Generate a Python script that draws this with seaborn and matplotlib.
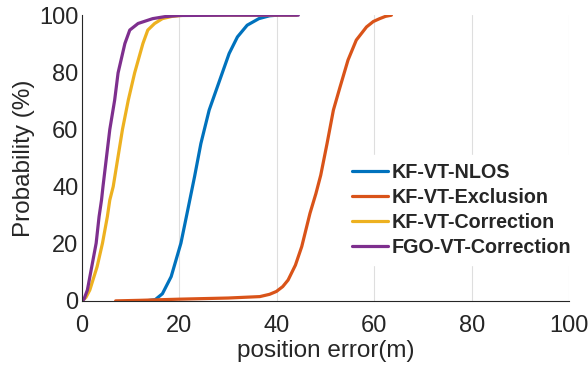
import matplotlib
matplotlib.use("Agg")
import matplotlib.pyplot as plt
import seaborn as sns
import pandas as pd

# CDF samples of position error (m) vs cumulative probability (%)
nlos_err = [11.5, 13.0, 15.0, 16.5, 18.3, 20.3, 21.7, 23.1, 24.4, 26.1, 28.5, 30.2, 31.9, 33.9, 36.3, 38.5, 40.0]
nlos_prob = [0.0, 0.0, 0.4, 2.5, 8.5, 20.2, 31.8, 43.5, 55.1, 66.8, 78.4, 86.6, 92.4, 96.5, 98.8, 99.8, 100.0]

excl_err = [6.9, 12.0, 20.0, 30.0, 36.5, 38.5, 39.9, 41.2, 42.3, 43.8, 45.1, 46.8, 48.0, 49.0, 50.3,
            51.6, 52.9, 54.6, 56.3, 58.4, 59.8, 61.1, 62.3, 63.5]
excl_prob = [0.0, 0.2, 0.6, 1.0, 1.5, 2.3, 3.3, 5.0, 7.3, 12.5, 19.0, 30.7, 37.5, 44.0, 55.1,
             66.8, 74.5, 84.3, 91.3, 95.9, 97.8, 98.8, 99.6, 100.0]

corr_err = [0.0, 0.8, 1.6, 3.1, 4.2, 5.2, 5.7, 6.4, 8.3, 9.5, 10.8, 12.5, 13.5, 14.9, 16.5, 18.5, 21.0, 30.0, 44.0]
corr_prob = [0.0, 1.2, 3.8, 12.0, 20.2, 29.5, 35.3, 40.0, 60.0, 70.3, 79.8, 90.1, 94.8, 97.1, 98.8, 99.6, 100.0, 100.0, 100.0]

fgo_err = [0.0, 0.4, 1.1, 2.0, 2.9, 3.5, 4.0, 4.3, 5.7, 6.7, 7.4, 8.8, 9.8, 11.5, 14.5, 17.0, 20.0, 30.0, 44.4]
fgo_prob = [0.0, 0.6, 3.8, 12.0, 20.2, 29.5, 35.3, 40.0, 60.0, 70.3, 79.8, 90.1, 94.8, 97.1, 98.8, 99.5, 99.9, 100.0, 100.0]

methods = ["KF-VT-NLOS", "KF-VT-Exclusion", "KF-VT-Correction", "FGO-VT-Correction"]
colors = ["#0072BD", "#D95319", "#EDB120", "#7E2F8E"]

series = [(nlos_err, nlos_prob), (excl_err, excl_prob), (corr_err, corr_prob), (fgo_err, fgo_prob)]
frames = []
for name, (xs, ys) in zip(methods, series):
    frames.append(pd.DataFrame({"err": xs, "prob": ys, "method": name}))
df = pd.concat(frames, ignore_index=True)

sns.set_theme(style="white")
plt.rcParams["font.family"] = ["Liberation Sans", "DejaVu Sans"]

fig = plt.figure(figsize=(5.88, 3.71), dpi=100)
ax = fig.add_axes([0.1395, 0.189, 0.8285, 0.770])

sns.lineplot(data=df, x="err", y="prob", hue="method", hue_order=methods,
             palette=colors, sort=False, estimator=None, units="method",
             linewidth=2.3, ax=ax, legend=True)
for line in ax.get_lines():
    line.set_solid_joinstyle("round")
    line.set_solid_capstyle("round")

ax.set_xlim(0, 100)
ax.set_ylim(0, 100)
ax.set_xticks([0, 20, 40, 60, 80, 100])
ax.set_yticks([0, 20, 40, 60, 80, 100])
ax.xaxis.grid(True, color="#dedede", linewidth=0.8)
ax.yaxis.grid(False)
ax.set_axisbelow(True)

for side in ["top", "right"]:
    ax.spines[side].set_visible(False)
for side in ["left", "bottom"]:
    ax.spines[side].set_color("#262626")
    ax.spines[side].set_linewidth(0.8)

ax.tick_params(axis="both", direction="in", length=4, width=0.8,
               colors="#262626", labelsize=17)
ax.tick_params(axis="x", pad=10)
ax.tick_params(axis="y", pad=2.5)
ax.set_xlabel("position error(m)", fontsize=17.5, color="#262626", labelpad=2)
ax.set_ylabel("Probability (%)", fontsize=17.5, color="#262626", labelpad=3)

handles, labels = ax.get_legend_handles_labels()
leg = ax.legend(handles, labels, loc="upper left", bbox_to_anchor=(0.585, 0.582),
                bbox_transform=fig.transFigure, frameon=True, fancybox=False,
                framealpha=1, edgecolor="white", facecolor="white",
                prop={"weight": "bold", "size": 14.2}, handlelength=1.85,
                handletextpad=0.15, labelspacing=0.3, borderpad=0.4,
                borderaxespad=0)
for line in leg.get_lines():
    line.set_linewidth(2.3)

fig.savefig("out.png", dpi=100)
